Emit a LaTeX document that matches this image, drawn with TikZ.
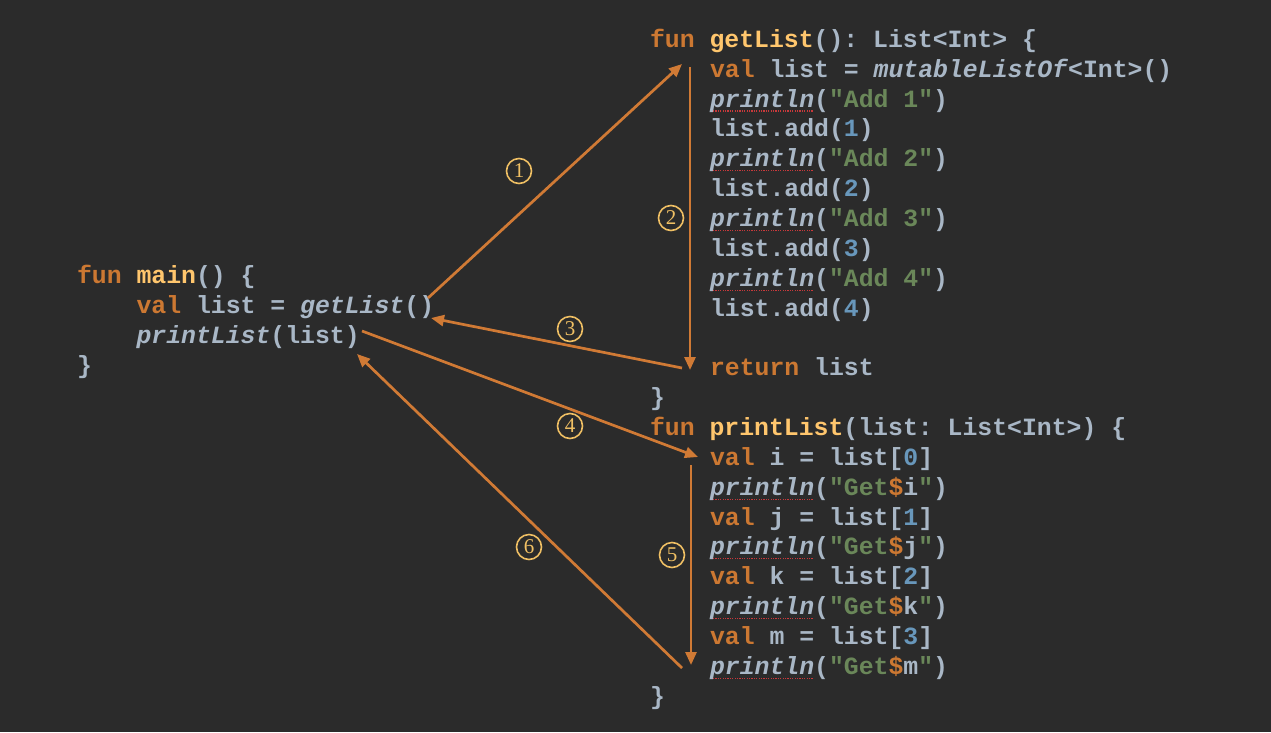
\documentclass[tikz,border=0pt]{standalone}
\usepackage{fontspec}
\setmonofont{Liberation Mono}
\newfontfamily\labfont{Liberation Serif}
\usetikzlibrary{arrows.meta}
\definecolor{bg}{HTML}{2B2B2B}
\definecolor{deftext}{HTML}{A9B7C6}
\definecolor{kwc}{HTML}{CC7832}
\definecolor{fnc}{HTML}{FFC66D}
\definecolor{strc}{HTML}{6A8759}
\definecolor{numc}{HTML}{6897BB}
\definecolor{arrc}{HTML}{D07A35}
\definecolor{labc}{HTML}{F0C064}
\definecolor{ulred}{HTML}{C8393B}
\newcommand\kw[1]{\textcolor{kwc}{#1}}
\newcommand\fn[1]{\textcolor{fnc}{#1}}
\newcommand\str[1]{\textcolor{strc}{#1}}
\newcommand\nm[1]{\textcolor{numc}{#1}}
\newcommand\pln{\setbox0\hbox{\itshape println}\rlap{\color{ulred}\raisebox{-4.5pt}{\leaders\hbox to 2.4pt{\hss\rule{1.2pt}{1.2pt}\hss}\hskip\wd0}}\box0}
\begin{document}
\begin{tikzpicture}[x=1pt,y=-1pt,
  code/.style={anchor=base west,inner sep=0pt,outer sep=0pt,text=deftext,
    font=\ttfamily\bfseries\fontsize{24.8}{30}\selectfont\frenchspacing},
  flow/.style={draw=arrc,line width=2.7pt,-{Triangle[length=13pt,width=11pt]}},
  steplabel/.style={circle,draw=labc,line width=1.6pt,minimum size=25pt,inner sep=0pt,
    text=labc,font=\labfont\fontsize{21}{21}\selectfont}]
\useasboundingbox[fill=bg] (0,0) rectangle (1271,732);
% main
\node[code] (m0) at (77,283.3) {\kw{fun} \fn{main}() \{};
\node[code] (m1) at (136.5,313.3) {\kw{val} list = \textit{getList}()};
\node[code] (m2) at (136.5,343.3) {\textit{printList}(list)};
\node[code] (m3) at (77,373.3) {\}};
% getList
\node[code] (g0) at (650,47.3) {\kw{fun} \fn{getList}(): List<Int> \{};
\node[code] (g1) at (710,77.2) {\kw{val} list = \textit{mutableListOf}<Int>()};
\node[code] (g2) at (710,107.0) {\pln(\str{"Add 1"})};
\node[code] (g3) at (710,136.9) {list.add(\nm{1})};
\node[code] (g4) at (710,166.7) {\pln(\str{"Add 2"})};
\node[code] (g5) at (710,196.6) {list.add(\nm{2})};
\node[code] (g6) at (710,226.5) {\pln(\str{"Add 3"})};
\node[code] (g7) at (710,256.3) {list.add(\nm{3})};
\node[code] (g8) at (710,286.2) {\pln(\str{"Add 4"})};
\node[code] (g9) at (710,316.0) {list.add(\nm{4})};
\node[code] (g11) at (710,375.8) {\kw{return} list};
\node[code] (g12) at (650,405.6) {\}};
% printList
\node[code] (p0) at (650,435.5) {\kw{fun} \fn{printList}(list: List<Int>) \{};
\node[code] (p1) at (710,465.3) {\kw{val} i = list[\nm{0}]};
\node[code] (p2) at (710,495.2) {\pln(\str{"Get}\kw{\$}i\str{"})};
\node[code] (p3) at (710,525.0) {\kw{val} j = list[\nm{1}]};
\node[code] (p4) at (710,554.9) {\pln(\str{"Get}\kw{\$}j\str{"})};
\node[code] (p5) at (710,584.8) {\kw{val} k = list[\nm{2}]};
\node[code] (p6) at (710,614.6) {\pln(\str{"Get}\kw{\$}k\str{"})};
\node[code] (p7) at (710,644.5) {\kw{val} m = list[\nm{3}]};
\node[code] (p8) at (710,674.3) {\pln(\str{"Get}\kw{\$}m\str{"})};
\node[code] (p9) at (650,704.2) {\}};
% arrow end points
\coordinate (callget) at (428,298);
\coordinate (getin) at (682,64);
\coordinate (gtop) at (690,67);
\coordinate (gbot) at (690,370);
\coordinate (retfrom) at (682,368);
\coordinate (retto) at (431,318);
\coordinate (callprint) at (362,331);
\coordinate (printin) at (698,457);
\coordinate (ptop) at (691,465);
\coordinate (pbot) at (691,665);
\coordinate (pend) at (682,668);
\coordinate (backto) at (357,354);
\draw[flow] (callget) -- (getin);
\draw[flow] (gtop) -- (gbot);
\draw[flow] (retfrom) -- (retto);
\draw[flow] (callprint) -- (printin);
\draw[flow] (ptop) -- (pbot);
\draw[flow] (pend) -- (backto);
% labels
\node[steplabel] (l1) at (519,171) {1};
\node[steplabel] (l2) at (671,218) {2};
\node[steplabel] (l3) at (570,329) {3};
\node[steplabel] (l4) at (570,426) {4};
\node[steplabel] (l5) at (672,555) {5};
\node[steplabel] (l6) at (529,547) {6};
\end{tikzpicture}
\end{document}
